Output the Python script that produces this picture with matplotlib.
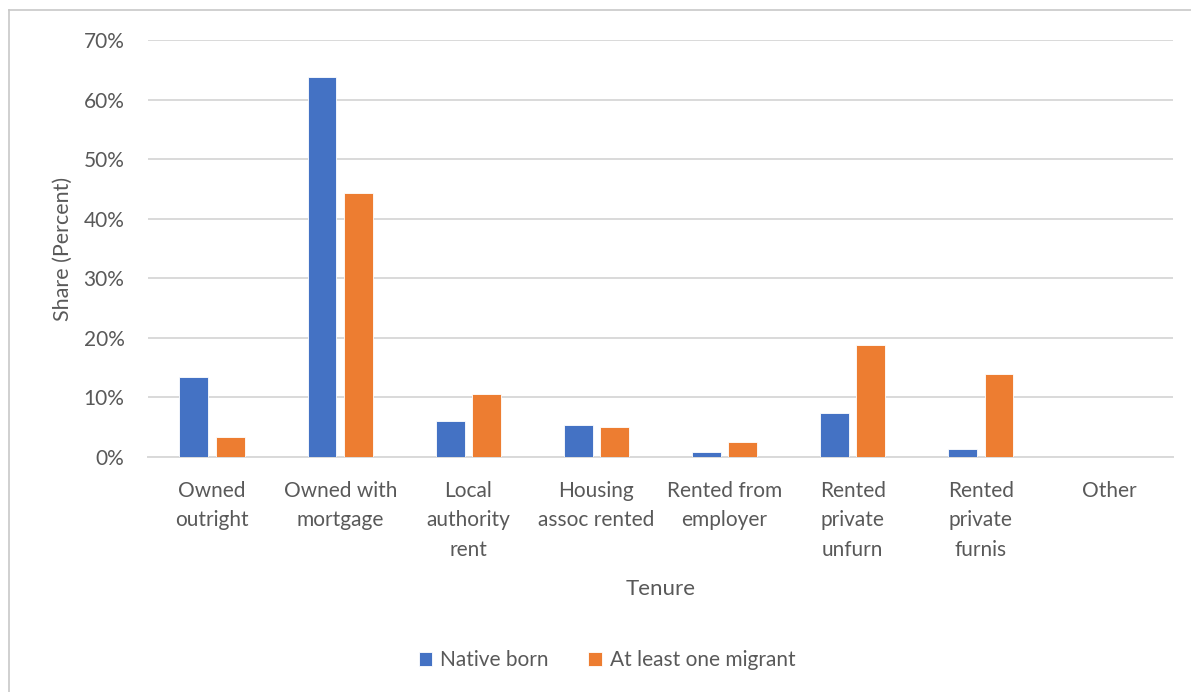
import matplotlib.pyplot as plt
from matplotlib.lines import Line2D
import numpy as np

plt.rcParams['font.family'] = ['Lato', 'DejaVu Sans']

categories = ["Owned\noutright", "Owned with\nmortgage", "Local\nauthority\nrent",
              "Housing\nassoc rented", "Rented from\nemployer", "Rented\nprivate\nunfurn",
              "Rented\nprivate\nfurnis", "Other"]
native_born = [13.4, 63.8, 6.1, 5.3, 0.8, 7.4, 1.4, 0.0]
migrant = [3.3, 44.4, 10.5, 5.0, 2.5, 18.8, 13.9, 0.0]
yticks = [0, 10, 20, 30, 40, 50, 60, 70]

blue = "#4472C4"
orange = "#ED7D31"
grey_text = "#595959"
grid_col = "#D9D9D9"

fig = plt.figure(figsize=(11.91, 6.92), dpi=100)
ax = fig.add_axes([0.1243, 0.3396, 0.8606, 0.6026])

x = np.arange(len(categories))
w = 0.225
off = 0.142
ax.bar(x - off, native_born, w, color=blue, edgecolor="white", linewidth=0.6,
       label="Native born", zorder=3)
ax.bar(x + off, migrant, w, color=orange, edgecolor="white", linewidth=0.6,
       label="At least one migrant", zorder=3)

ax.set_xlim(-0.5, len(categories) - 0.5)
ax.set_ylim(0, 70)
ax.set_yticks(yticks)
ax.set_yticklabels([f"{v}%" for v in yticks])
ax.set_xticks(x)
ax.set_xticklabels(categories, linespacing=1.6)

ax.yaxis.grid(True, color=grid_col, linewidth=1.4, zorder=0)
for s in ["top", "right", "left"]:
    ax.spines[s].set_visible(False)
ax.spines["bottom"].set_color(grid_col)
ax.spines["bottom"].set_linewidth(1.4)
ax.tick_params(axis="both", length=0, labelsize=15, colors=grey_text)
ax.tick_params(axis="y", pad=17)
ax.tick_params(axis="x", pad=17)

ax.set_ylabel("Share (Percent)", fontsize=15.5, color=grey_text, labelpad=8)
ax.set_xlabel("Tenure", fontsize=16, color=grey_text, labelpad=14)

ax.legend(loc="center", bbox_to_anchor=(0.448, -0.488), ncol=2, frameon=False,
          fontsize=15, labelcolor=grey_text, handlelength=0.65, handleheight=0.65,
          columnspacing=1.9, handletextpad=0.4)

# light frame on the left and top edges
fig.add_artist(Line2D([9 / 1191, 9 / 1191], [0, 1 - 10 / 692], color="#C8C8C8",
                      linewidth=1.2, transform=fig.transFigure))
fig.add_artist(Line2D([9 / 1191, 1], [1 - 10 / 692, 1 - 10 / 692], color="#C8C8C8",
                      linewidth=1.2, transform=fig.transFigure))

fig.savefig("out.png", dpi=100)
